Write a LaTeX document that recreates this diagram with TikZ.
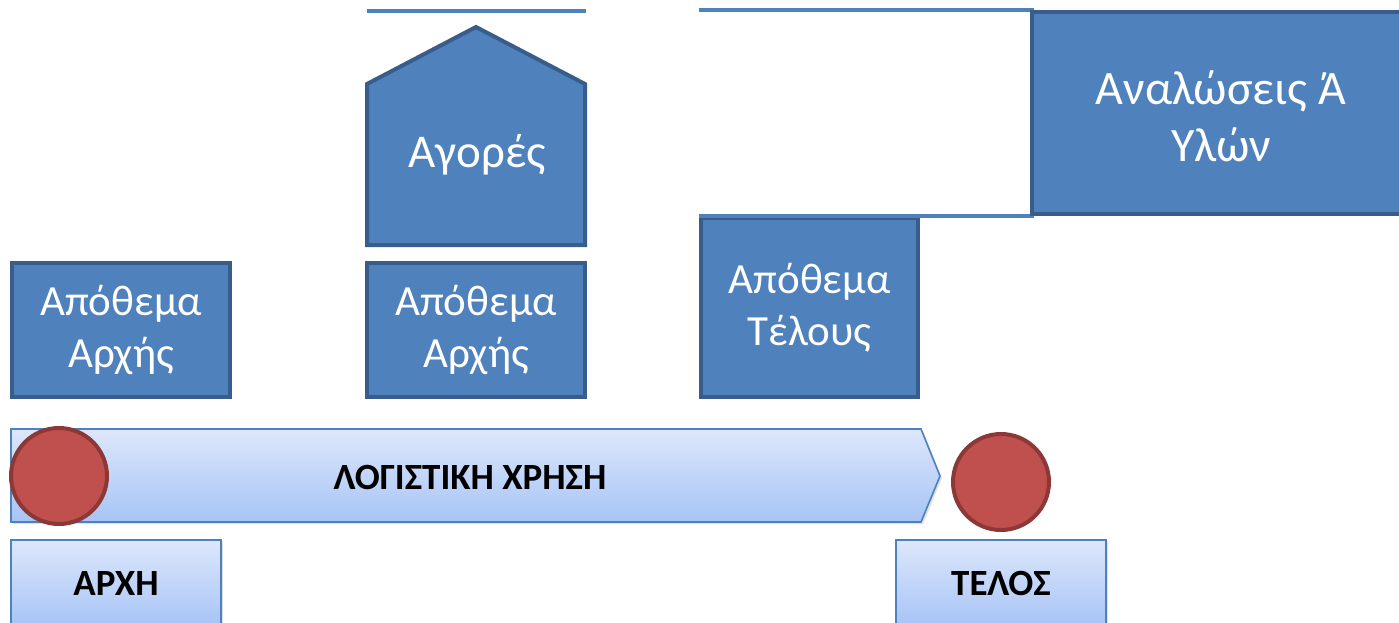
\documentclass[tikz,border=0pt]{standalone}
\usepackage{fontspec}
\setmainfont{Carlito}
\usetikzlibrary{shadows}

\definecolor{boxblue}{HTML}{4F81BD}
\definecolor{boxedge}{HTML}{385D8A}
\definecolor{paletop}{HTML}{DDE7FB}
\definecolor{palebot}{HTML}{A7C4F6}
\definecolor{dotred}{HTML}{C0504D}
\definecolor{dotedge}{HTML}{8C3836}

\tikzset{
  bluebox/.style={draw=boxedge, line width=4pt, fill=boxblue, text=white,
    align=center, inner sep=0pt, font=\fontsize{43}{52}\selectfont},
  bluetext/.style={text=white, align=center, inner sep=0pt,
    font=\fontsize{43}{52}\selectfont},
  palebox/.style={draw=boxblue, line width=1.6pt, top color=paletop,
    bottom color=palebot, inner sep=0pt,
    font=\bfseries\fontsize{37}{44}\selectfont,
    drop shadow={opacity=0.25, shadow xshift=2pt, shadow yshift=-2pt}},
  reddot/.style={circle, draw=dotedge, line width=4pt, fill=dotred,
    minimum size=96pt, inner sep=0pt},
  toprule/.style={draw=boxblue, line width=4pt},
}

\begin{document}
\begin{tikzpicture}[x=1pt, y=-1pt]
\useasboundingbox (0,0) rectangle (1399,623);

% horizontal rules behind the boxes
\coordinate (r1a) at (367,11);  \coordinate (r1b) at (586,11);
\coordinate (r2a) at (699,10);  \coordinate (r2b) at (1034,10);
\coordinate (r3a) at (699,216); \coordinate (r3b) at (1034,216);
\draw[toprule] (r1a) -- (r1b);
\draw[toprule] (r2a) -- (r2b);

% opening stock boxes
\node[bluebox, minimum width=218pt, minimum height=134pt] (open1) at (121,330)
  {Απόθεμα\\Αρχής};
\node[bluebox, minimum width=218pt, minimum height=134pt] (open2) at (476,330)
  {Απόθεμα\\Αρχής};

% purchases: house-shaped pentagon
\draw[draw=boxedge, line width=4pt, fill=boxblue, line join=miter]
  (367,84) -- (476,27) -- (585,84) -- (585,245) -- (367,245) -- cycle;
\node[bluetext, font=\fontsize{47}{56}\selectfont] (buy) at (477,155) {Αγορές};

% closing stock
\node[bluebox, minimum width=217pt, minimum height=179pt] (close) at (809.5,307.5)
  {Απόθεμα\\Τέλους};
\draw[toprule] (r3a) -- (r3b);

% consumption of raw materials
\node[bluebox, minimum width=378pt, minimum height=202pt] (cons) at (1221,113) {};
\node[bluetext, font=\fontsize{48}{57}\selectfont] (constext) at (1221,116)
  {Αναλώσεις Ά\\Υλών};

% financial year banner
\shadedraw[draw=boxblue, line width=1.6pt, top color=paletop, bottom color=palebot,
  drop shadow={opacity=0.25, shadow xshift=2pt, shadow yshift=-2pt}]
  (11,429) -- (921,429) -- (940,476) -- (921,522) -- (11,522) -- cycle;
\node[font=\bfseries\fontsize{37}{44}\selectfont, inner sep=0pt] (year) at (470,477)
  {ΛΟΓΙΣΤΙΚΗ ΧΡΗΣΗ};

% start and end markers
\node[reddot] (startdot) at (59,476) {};
\node[reddot] (enddot) at (1001,482) {};

% start and end labels
\node[palebox, minimum width=210pt, minimum height=86pt] (start) at (116,583) {ΑΡΧΗ};
\node[palebox, minimum width=210pt, minimum height=86pt] (end) at (1001,583) {ΤΕΛΟΣ};
\end{tikzpicture}
\end{document}
